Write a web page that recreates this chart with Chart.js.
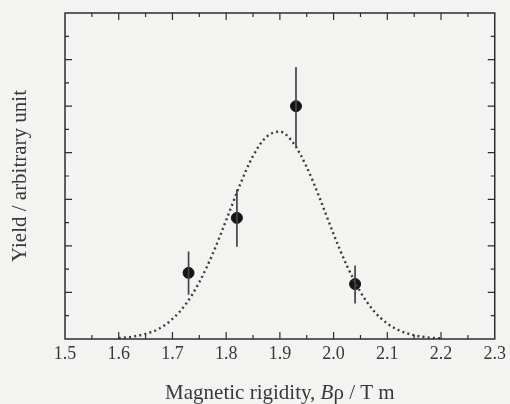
<!DOCTYPE html>
<html>
<head>
<meta charset="utf-8">
<script src="https://cdn.jsdelivr.net/npm/chart.js@4/dist/chart.umd.min.js"></script>
<style>
    html, body { margin: 0; padding: 0; background: #f3f3f1; }
    #wrap { width: 510px; height: 404px; position: relative; }
</style>
</head>
<body>
<div id="wrap"><canvas id="yieldChart"></canvas></div>
<script>
'use strict';

// measured points (B rho in T m, yield in arbitrary units)
var rigidity = [1.73, 1.82, 1.93, 2.04];
var yieldVals = [1.42, 2.60, 5.00, 1.18];
var errHigh = [1.88, 3.21, 5.84, 1.58];
var errLow = [0.95, 1.98, 4.14, 0.76];

// dotted fit curve
var fitX = [1.600, 1.625, 1.650, 1.675, 1.700, 1.725, 1.750, 1.775, 1.800, 1.825,
    1.850, 1.875, 1.900, 1.925, 1.950, 1.975, 2.000, 2.025, 2.050, 2.075,
    2.100, 2.125, 2.150, 2.175, 2.200];
var fitY = [0.02, 0.05, 0.11, 0.22, 0.43, 0.75, 1.22, 1.83, 2.55, 3.29,
    3.93, 4.34, 4.45, 4.21, 3.69, 3.00, 2.25, 1.57, 1.01, 0.60,
    0.33, 0.17, 0.08, 0.035, 0.014];

var xTicks = ['1.5', '1.6', '1.7', '1.8', '1.9', '2.0', '2.1', '2.2', '2.3'];

// x title pieces: [text, italic]
var xTitle = [['Magnetic rigidity, ', false], ['B', true], ['ρ / T m', false]];

var ink = '#2e2e2e';
var textInk = '#383838';
var serif = '"Liberation Serif", "DejaVu Serif", serif';

/**
 * Frame with inward ticks on all four sides, error bars, x title
 */
var framePlugin = {
    id: 'frame',
    afterDatasetsDraw: function(chart) {
        var ctx = chart.ctx;
        var a = chart.chartArea;
        var xs = chart.scales.x;
        var ys = chart.scales.y;
        var i, v, px, len;

        ctx.save();

        // error bars
        ctx.lineWidth = 1.7;
        ctx.strokeStyle = '#444';
        for (i = 0; i < rigidity.length; i++) {
            px = xs.getPixelForValue(rigidity[i]);
            ctx.beginPath();
            ctx.moveTo(px, ys.getPixelForValue(errHigh[i]));
            ctx.lineTo(px, ys.getPixelForValue(errLow[i]));
            ctx.stroke();
        }

        ctx.strokeStyle = ink;
        ctx.lineWidth = 1.5;
        ctx.strokeRect(a.left, a.top, a.right - a.left, a.bottom - a.top);

        ctx.lineWidth = 1.2;
        ctx.beginPath();
        // x ticks every 0.05, major on every 0.1
        for (i = 1; i < 16; i++) {
            v = 1.5 + i * 0.05;
            px = xs.getPixelForValue(v);
            len = (i % 2 === 0) ? 7 : 4;
            ctx.moveTo(px, a.bottom);
            ctx.lineTo(px, a.bottom - len);
            ctx.moveTo(px, a.top);
            ctx.lineTo(px, a.top + len);
        }
        // y ticks every 0.5, major on every 1
        for (i = 1; i < 14; i++) {
            v = i * 0.5;
            px = ys.getPixelForValue(v);
            len = (i % 2 === 0) ? 7 : 4;
            ctx.moveTo(a.left, px);
            ctx.lineTo(a.left + len, px);
            ctx.moveTo(a.right, px);
            ctx.lineTo(a.right - len, px);
        }
        ctx.stroke();

        // x title with italic B
        var fonts = xTitle.map(function(p) {
            return (p[1] ? 'italic ' : '') + '21px ' + serif;
        });
        var total = 0;
        xTitle.forEach(function(p, k) {
            ctx.font = fonts[k];
            total += ctx.measureText(p[0]).width;
        });
        var cx = (a.left + a.right) / 2 - total / 2;
        ctx.fillStyle = textInk;
        ctx.textBaseline = 'middle';
        ctx.textAlign = 'left';
        xTitle.forEach(function(p, k) {
            ctx.font = fonts[k];
            ctx.fillText(p[0], cx, 393);
            cx += ctx.measureText(p[0]).width;
        });
        ctx.restore();
    }
};

new Chart(document.getElementById('yieldChart'), {
    type: 'scatter',
    data: {
        datasets: [{
            label: 'fit',
            type: 'line',
            data: fitX.map(function(x, i) { return { x: x, y: fitY[i] }; }),
            borderColor: '#3a3a3a',
            borderWidth: 2.4,
            borderDash: [2, 3.2],
            pointRadius: 0,
            fill: false,
            cubicInterpolationMode: 'monotone'
        }, {
            label: 'data',
            data: rigidity.map(function(x, i) { return { x: x, y: yieldVals[i] }; }),
            backgroundColor: '#151515',
            borderColor: '#151515',
            pointRadius: 5.5,
            pointHoverRadius: 5.5
        }]
    },
    options: {
        responsive: true,
        maintainAspectRatio: false,
        animation: false,
        layout: { padding: { top: 13, right: 11, left: 0, bottom: 0 } },
        plugins: {
            legend: { display: false },
            tooltip: { enabled: false }
        },
        scales: {
            x: {
                type: 'linear',
                min: 1.5,
                max: 2.3,
                afterFit: function(scale) { scale.height = 65; },
                afterBuildTicks: function(scale) {
                    scale.ticks = xTicks.map(function(t) { return { value: parseFloat(t) }; });
                },
                grid: { display: false, drawTicks: false },
                border: { display: false },
                ticks: {
                    padding: 4,
                    color: textInk,
                    font: { family: serif, size: 18 },
                    callback: function(value) { return value.toFixed(1); }
                },
                title: { display: false }
            },
            y: {
                min: 0,
                max: 7,
                afterFit: function(scale) { scale.width = 65; },
                grid: { display: false, drawTicks: false },
                border: { display: false },
                ticks: { display: false },
                title: {
                    display: true,
                    text: 'Yield / arbitrary unit',
                    color: textInk,
                    font: { family: serif, size: 21 },
                    padding: { top: 8, bottom: 0 }
                }
            }
        }
    },
    plugins: [framePlugin]
});
</script>
</body>
</html>
